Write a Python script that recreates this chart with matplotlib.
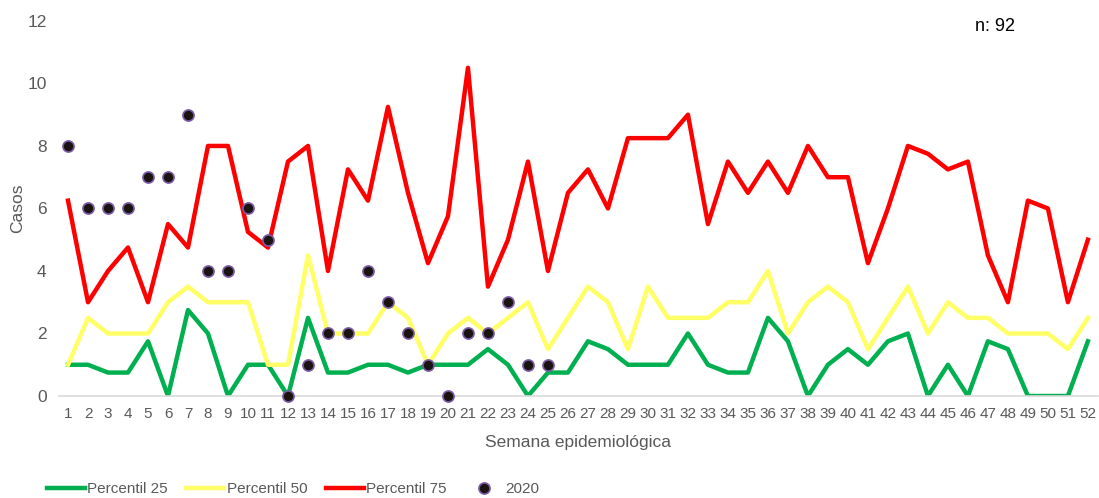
import matplotlib
matplotlib.use("Agg")
import matplotlib.pyplot as plt

plt.rcParams['font.family'] = ['Liberation Sans', 'DejaVu Sans']

semanas = list(range(1, 53))

p25 = [1, 1, 0.75, 0.75, 1.75, 0, 2.75, 2, 0, 1, 1, 0, 2.5, 0.75, 0.75, 1, 1, 0.75, 1, 1,
       1, 1.5, 1, 0, 0.75, 0.75, 1.75, 1.5, 1, 1, 1, 2, 1, 0.75, 0.75, 2.5, 1.75, 0, 1, 1.5,
       1, 1.75, 2, 0, 1, 0, 1.75, 1.5, 0, 0, 0, 1.75]
p50 = [1, 2.5, 2, 2, 2, 3, 3.5, 3, 3, 3, 1, 1, 4.5, 2, 2, 2, 3, 2.5, 1, 2,
       2.5, 2, 2.5, 3, 1.5, 2.5, 3.5, 3, 1.5, 3.5, 2.5, 2.5, 2.5, 3, 3, 4, 2, 3, 3.5, 3,
       1.5, 2.5, 3.5, 2, 3, 2.5, 2.5, 2, 2, 2, 1.5, 2.5]
p75 = [6.25, 3, 4, 4.75, 3, 5.5, 4.75, 8, 8, 5.25, 4.75, 7.5, 8, 4, 7.25, 6.25, 9.25, 6.5, 4.25, 5.75,
       10.5, 3.5, 5, 7.5, 4, 6.5, 7.25, 6, 8.25, 8.25, 8.25, 9, 5.5, 7.5, 6.5, 7.5, 6.5, 8, 7, 7,
       4.25, 6, 8, 7.75, 7.25, 7.5, 4.5, 3, 6.25, 6, 3, 5]
semanas_2020 = list(range(1, 26))
casos_2020 = [8, 6, 6, 6, 7, 7, 9, 4, 4, 6, 5, 0, 1, 2, 2, 4, 3, 2, 1, 0, 2, 2, 3, 1, 1]

fig = plt.figure(figsize=(10.99, 4.98), dpi=100)
ax = fig.add_axes([0.0537, 0.2048, 0.9453, 0.7532])

ax.plot(semanas, p25, color='#00B050', lw=3.2, label='Percentil 25')
ax.plot(semanas, p50, color='#FFFF66', lw=3.2, label='Percentil 50')
ax.plot(semanas, p75, color='#FF0000', lw=3.2, label='Percentil 75')
ax.plot(semanas_2020, casos_2020, ls='none', marker='o', markersize=8,
        markerfacecolor='#1a1410', markeredgecolor='#7a5ca8', markeredgewidth=1.2,
        label='2020', zorder=5, clip_on=False)

ax.set_xlim(0.55, 52.5)
ax.set_ylim(0, 12)
ax.set_yticks(range(0, 13, 2))
ax.set_xticks(semanas)
ax.tick_params(axis='both', length=0, colors='#595959')
ax.tick_params(axis='y', pad=9, labelsize=12.5)
ax.tick_params(axis='x', pad=8, labelsize=11)
for s in ['top', 'right', 'left']:
    ax.spines[s].set_visible(False)
ax.spines['bottom'].set_color('#D9D9D9')
ax.spines['bottom'].set_linewidth(1.2)

ax.set_ylabel('Casos', fontsize=12.5, color='#595959')
ax.yaxis.set_label_coords(-0.033, 0.5)
ax.set_xlabel('Semana epidemiológica', fontsize=12.5, color='#595959', labelpad=10)

ax.text(0.882, 0.985, 'n: 92', transform=ax.transAxes, fontsize=13, color='black',
        ha='left', va='center')

leg = fig.legend(loc='lower left', bbox_to_anchor=(0.030, -0.024), ncol=4, frameon=False,
                 fontsize=11, handlelength=2.5, columnspacing=1.2, handletextpad=0.15)
for t in leg.get_texts():
    t.set_color('#595959')

fig.savefig('out.png', dpi=100)
